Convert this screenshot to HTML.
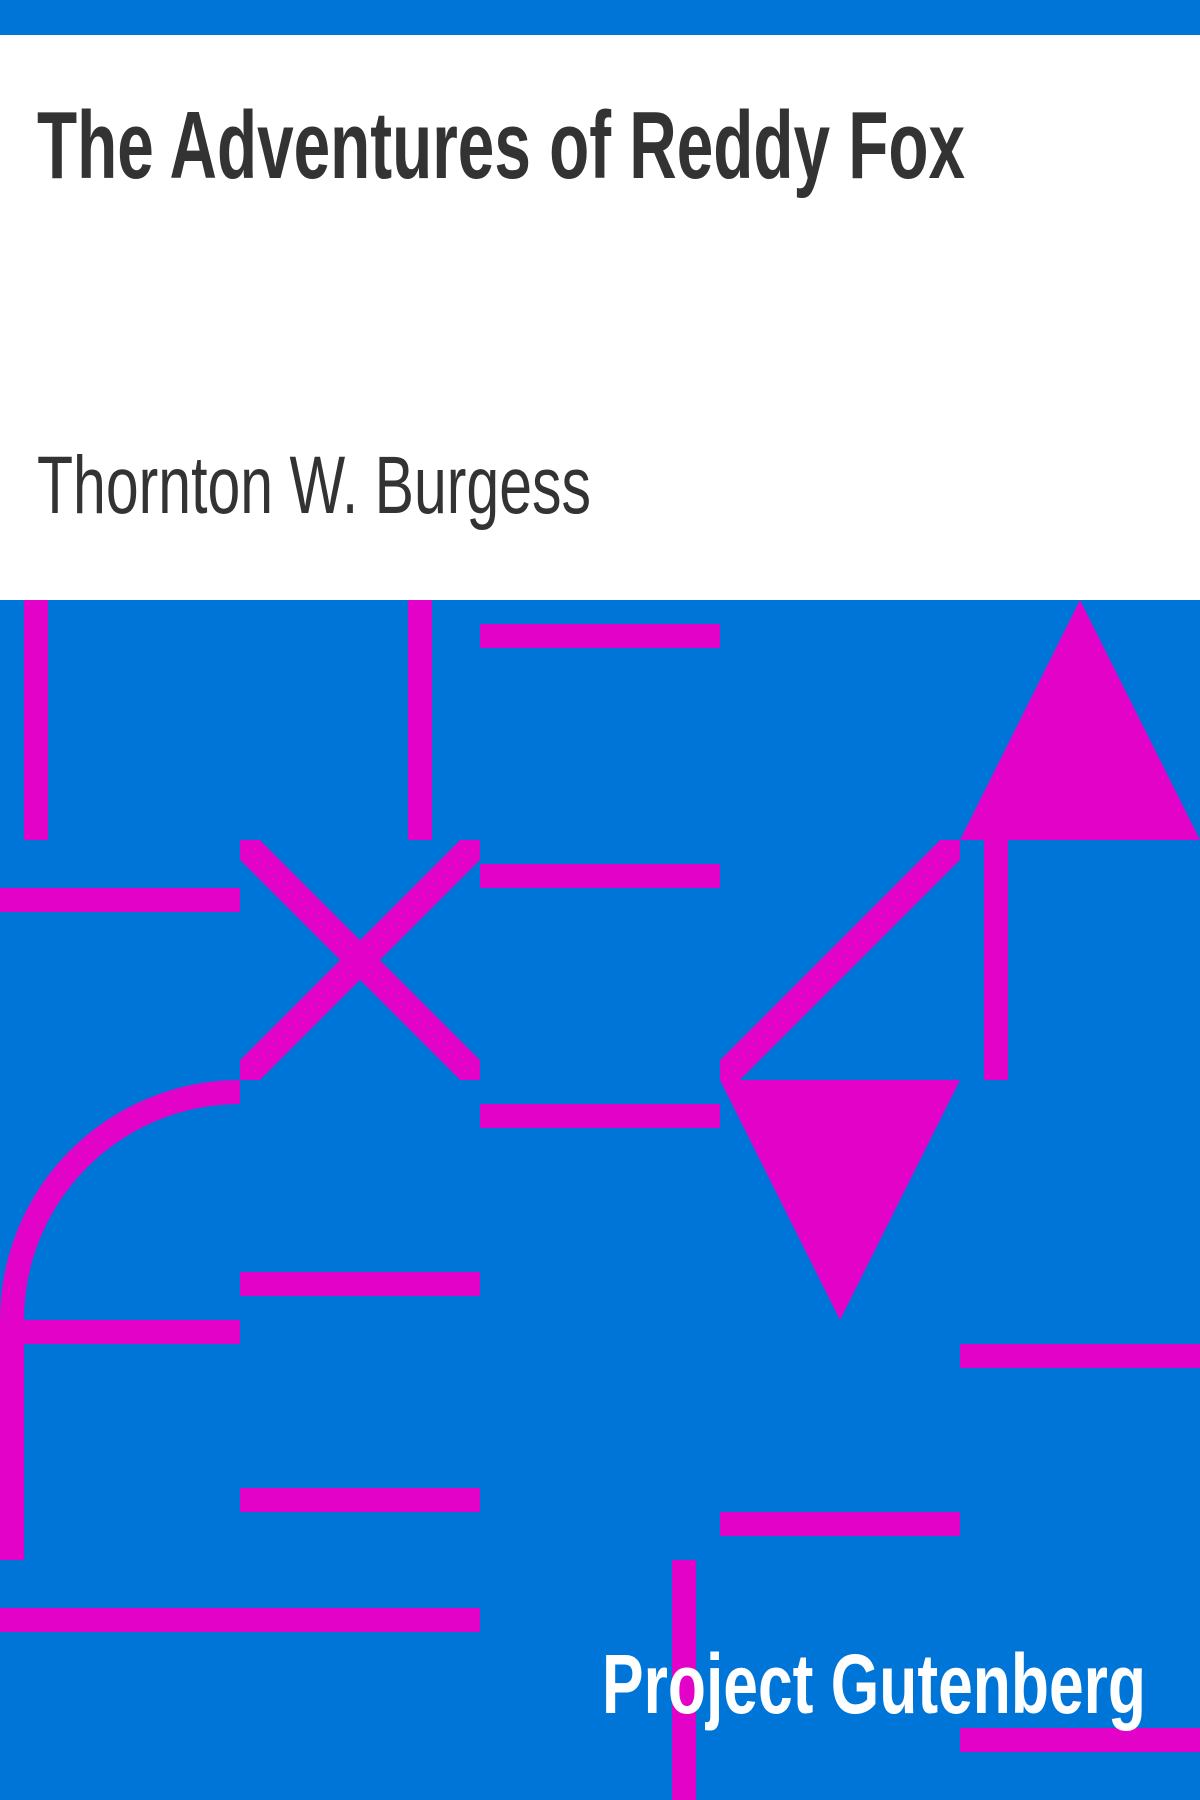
<!DOCTYPE html>
<html><head><meta charset="utf-8"><style>
html,body{margin:0;padding:0;width:1200px;height:1800px;overflow:hidden;background:#fff}
svg{display:block}
</style></head><body>
<svg width="1200" height="1800" viewBox="0 0 1200 1800" xmlns="http://www.w3.org/2000/svg">
<rect x="0" y="0" width="1200" height="35" fill="#0075d8"/>
<rect x="0" y="35" width="1200" height="565" fill="#ffffff"/>
<text x="37" y="178" font-family="'Liberation Sans Narrow','Liberation Sans',sans-serif" font-weight="bold" font-size="96" fill="#333" textLength="928" lengthAdjust="spacingAndGlyphs">The Adventures of Reddy Fox</text>
<text x="37" y="513" font-family="'Liberation Sans Narrow','Liberation Sans',sans-serif" font-size="82" fill="#333" textLength="554" lengthAdjust="spacingAndGlyphs">Thornton W. Burgess</text>
<g>
<rect x="0" y="600" width="1200" height="1200" fill="#0075d8"/>
<defs>
<clipPath id="c1"><rect x="240" y="840" width="240" height="240"/></clipPath>
<clipPath id="c2"><rect x="720" y="840" width="240" height="240"/></clipPath>
<clipPath id="c3"><rect x="0" y="1080" width="240" height="240"/></clipPath>
</defs>
<g fill="#e303c8">
<rect x="24" y="600" width="24" height="240"/>
<rect x="408" y="600" width="24" height="240"/>
<rect x="480" y="624" width="240" height="24"/>
<rect x="0" y="888" width="240" height="24"/>
<rect x="480" y="864" width="240" height="24"/>
<rect x="480" y="1104" width="240" height="24"/>
<polygon points="1080,600 960,840 1200,840"/>
<rect x="984" y="840" width="24" height="240"/>
<polygon points="720,1080 960,1080 840,1320"/>
<rect x="0" y="1320" width="24" height="240"/>
<rect x="0" y="1320" width="240" height="24"/>
<rect x="240" y="1272" width="240" height="24"/>
<rect x="240" y="1488" width="240" height="24"/>
<rect x="0" y="1608" width="480" height="24"/>
<rect x="960" y="1344" width="240" height="24"/>
<rect x="720" y="1512" width="240" height="24"/>
<rect x="672" y="1560" width="24" height="240"/>
<rect x="960" y="1728" width="240" height="24"/>
</g>
<g stroke="#e303c8" stroke-width="28" fill="none">
<g clip-path="url(#c1)"><line x1="240" y1="840" x2="480" y2="1080"/><line x1="480" y1="840" x2="240" y2="1080"/></g>
<g clip-path="url(#c2)"><line x1="960" y1="840" x2="720" y2="1080"/></g>
<g clip-path="url(#c3)"><path d="M240,1092 A228,228 0 0 0 12,1320" stroke-width="24"/></g>
</g>
</g>
<text x="602" y="1713" font-family="'Liberation Sans Narrow','Liberation Sans',sans-serif" font-weight="bold" font-size="84" fill="#ffffff" textLength="544" lengthAdjust="spacingAndGlyphs">Project Gutenberg</text>
</svg>
</body></html>
